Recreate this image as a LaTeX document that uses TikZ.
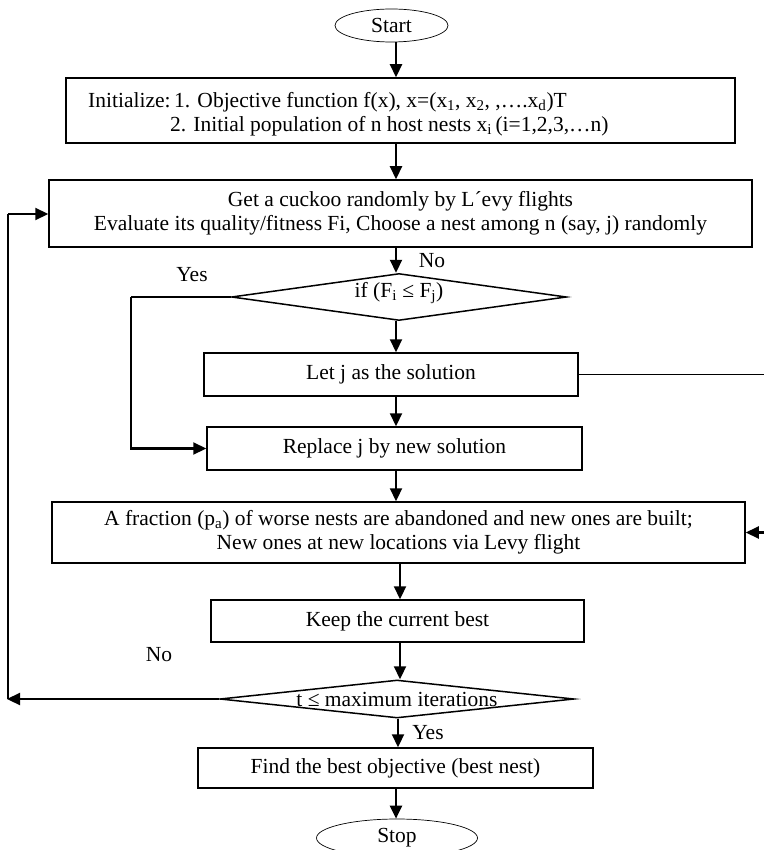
\documentclass[tikz,border=0pt]{standalone}
\usepackage{fontspec}
\setmainfont{Liberation Serif}
\usetikzlibrary{shapes.geometric,arrows.meta}
\begin{document}
\begin{tikzpicture}[x=1pt,y=-1pt,
  every node/.style={font=\fontsize{21.5}{24}\selectfont},
  box/.style={draw,line width=1.5pt,rectangle,inner sep=0pt,align=center},
  dec/.style={draw,line width=1.5pt,diamond,inner sep=0pt},
  term/.style={draw,line width=0.7pt,ellipse,inner sep=0pt},
  lbl/.style={inner sep=0pt},
  arr/.style={line width=2.2pt,-{Triangle[length=13pt,width=12pt]}},
  conn/.style={line width=2pt},
  thinconn/.style={line width=1.4pt}]
\useasboundingbox (0,0) rectangle (763,850);

\node[term,minimum width=113pt,minimum height=33pt] (start) at (391.5,25.5) {Start};
\node[box,minimum width=669pt,minimum height=65pt] (init) at (400.5,110.5) {};
\node[lbl,anchor=west,align=left] (inittxt) at (88,114) {Initialize:\,1. Objective function f(x), x=(x\textsubscript{1}, x\textsubscript{2}, ,….x\textsubscript{d})T\\\hspace*{82pt}2. Initial population of n host nests x\textsubscript{i}\,(i=1,2,3,…n)};
\node[box,minimum width=703pt,minimum height=67pt] (get) at (400.5,213.5) {Get a cuckoo randomly by L´evy flights\\Evaluate its quality/fitness Fi, Choose a nest among n (say, j) randomly};
\node[dec,minimum width=335pt,minimum height=47pt] (d1) at (399,297) {\smash{\makebox[0pt]{if (F\textsubscript{i} ≤ F\textsubscript{j})}}};
\node[box,minimum width=374pt,minimum height=43pt] (letj) at (391,374.5) {Let j as the solution};
\node[box,minimum width=375pt,minimum height=43pt] (repl) at (394.5,448.5) {Replace j by new solution};
\node[box,minimum width=693pt,minimum height=61pt] (frac) at (398.5,532.5) {A fraction (p\textsubscript{a}) of worse nests are abandoned and new ones are built;\\New ones at new locations via Levy flight};
\node[box,minimum width=373pt,minimum height=42pt] (keep) at (397.5,621) {Keep the current best};
\node[dec,minimum width=354pt,minimum height=38pt] (d2) at (397,699) {\smash{\makebox[0pt]{\raisebox{-7pt}{t ≤ maximum iterations}}}};
\node[box,minimum width=395pt,minimum height=40pt] (find) at (395.5,768) {Find the best objective (best nest)};
\node[term,minimum width=161pt,minimum height=38pt] (stop) at (397,838) {Stop};

\node[lbl] (no1) at (432,261) {No};
\node[lbl] (yes1) at (192,275) {Yes};
\node[lbl] (no2) at (159,655) {No};
\node[lbl] (yes2) at (428,733) {Yes};

\coordinate (ax) at (396,0);
\coordinate (bx) at (400,0);
\coordinate (cx) at (398,0);
\coordinate (yb) at (131,297);
\coordinate (lb) at (7,699);
\coordinate (lt) at (8,214);
\coordinate (rt) at (766,376);

\draw[arr] (start.south -| ax) -- (init.north -| ax);
\draw[arr] (init.south -| ax) -- (get.north -| ax);
\draw[arr] (get.south -| ax) -- (d1.north -| ax);
\draw[arr] (d1.south -| ax) -- (letj.north -| ax);
\draw[arr] (letj.south -| ax) -- (repl.north -| ax);
\draw[arr] (repl.south -| ax) -- (frac.north -| ax);
\draw[arr] (frac.south -| bx) -- (keep.north -| bx);
\draw[arr] (keep.south -| bx) -- (d2.north -| bx);
\draw[arr] (d2.south -| cx) -- (find.north -| cx);
\draw[arr] (find.south -| ax) -- (stop.north -| ax);

\draw[conn] (d1.west) -- (yb);
\draw[arr] (yb) |- (repl.west);
\draw[thinconn] (letj.east) -- (letj.east -| rt) -- (rt |- frac.east);
\draw[arr] (rt |- frac.east) -- (frac.east);
\draw[arr] (d2.west) -- (lb);
\draw[conn] (lb -| lt) -- (lt);
\draw[arr] (lt) -- (lt -| get.west);
\end{tikzpicture}
\end{document}
